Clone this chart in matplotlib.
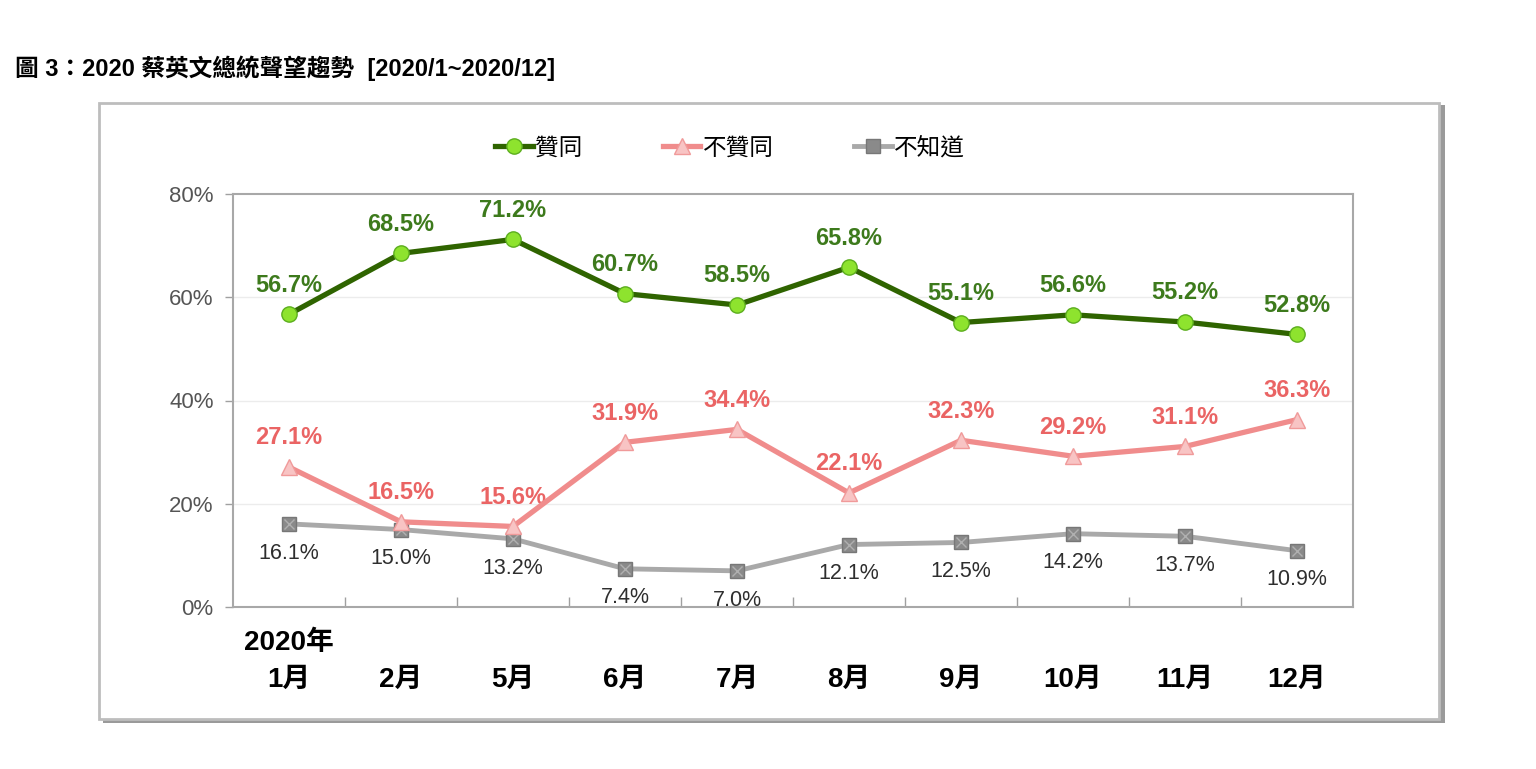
import matplotlib.pyplot as plt
from matplotlib.patches import Rectangle

plt.rcParams['font.family'] = ['Liberation Sans', 'Noto Sans CJK TC', 'DejaVu Sans']

# data
months = ['1月', '2月', '5月', '6月', '7月', '8月', '9月', '10月', '11月', '12月']
year_label = '2020年'
approve = [56.7, 68.5, 71.2, 60.7, 58.5, 65.8, 55.1, 56.6, 55.2, 52.8]
disapprove = [27.1, 16.5, 15.6, 31.9, 34.4, 22.1, 32.3, 29.2, 31.1, 36.3]
unknown = [16.1, 15.0, 13.2, 7.4, 7.0, 12.1, 12.5, 14.2, 13.7, 10.9]
y_ticks = [0, 20, 40, 60, 80]

title = '圖 3：2020 蔡英文總統聲望趨勢  [2020/1~2020/12]'

fig = plt.figure(figsize=(15.36, 7.69), dpi=100)

# outer frame with shadow (figure pixel coords -> fractions)
W, H = 1536, 769
shadow = Rectangle((103 / W, 1 - 723 / H), 1342 / W, 618 / H,
                   transform=fig.transFigure, facecolor='#9a9a9a',
                   edgecolor='none', zorder=0)
frame = Rectangle((99 / W, 1 - 719 / H), 1340 / W, 616 / H,
                  transform=fig.transFigure, facecolor='white',
                  edgecolor='#bdbdbd', linewidth=2, zorder=1)
fig.patches.extend([shadow, frame])

fig.text(15 / W, 1 - 68 / H, title, fontsize=17, fontweight='bold',
         va='center', ha='left')

ax = fig.add_axes([233 / W, 1 - 607 / H, 1120 / W, 413 / H])
ax.set_zorder(2)
x = list(range(len(months)))

ax.plot(x, unknown, color='#a9a9a9', linewidth=3.5, marker='s',
        markersize=10, markerfacecolor='#8a8a8a', markeredgecolor='#777777',
        label='不知道', zorder=3)
ax.plot(x, unknown, linestyle='none', marker='x', markersize=7,
        markeredgecolor='#b0b0b0', markeredgewidth=1, zorder=4)
ax.plot(x, disapprove, color='#f08c8c', linewidth=3.8, marker='^',
        markersize=12, markerfacecolor='#f8c4c4', markeredgecolor='#f09a9a',
        label='不贊同', zorder=5)
ax.plot(x, approve, color='#2f6400', linewidth=3.8, marker='o',
        markersize=11, markerfacecolor='#8ee32e', markeredgecolor='#5cae1e',
        label='贊同', zorder=6)

for xi, v in zip(x, approve):
    ax.annotate(f'{v:.1f}%', (xi, v), xytext=(0, 21), textcoords='offset points',
                ha='center', va='center', fontsize=17, fontweight='bold',
                color='#3d7a1c')
for xi, v in zip(x, disapprove):
    ax.annotate(f'{v:.1f}%', (xi, v), xytext=(0, 21), textcoords='offset points',
                ha='center', va='center', fontsize=17, fontweight='bold',
                color='#ea6464')
for xi, v in zip(x, unknown):
    ax.annotate(f'{v:.1f}%', (xi, v), xytext=(0, -21), textcoords='offset points',
                ha='center', va='center', fontsize=15.5, color='#2e2e2e')

ax.set_xlim(-0.5, len(months) - 0.5)
ax.set_ylim(0, 80)
ax.set_yticks(y_ticks)
ax.set_yticklabels([f'{t}%' for t in y_ticks], fontsize=16, color='#555555')
ax.tick_params(axis='y', length=6, width=1, color='#a0a0a0', pad=8)
ax.set_xticks([])
ax.set_xticks([i + 0.5 for i in x[:-1]], minor=True)
ax.tick_params(axis='x', which='minor', direction='in', length=7, width=1,
               color='#a0a0a0')
for t in y_ticks[1:-1]:
    ax.axhline(t, color='#ececec', linewidth=1, zorder=1)
for s in ax.spines.values():
    s.set_color('#a8a8a8')
    s.set_linewidth(1.5)

for xi, m in zip(x, months):
    ax.text(xi, -0.177, m, transform=ax.get_xaxis_transform(), ha='center',
            va='center', fontsize=20, fontweight='bold')
ax.text(x[0], -0.087, year_label, transform=ax.get_xaxis_transform(),
        ha='center', va='center', fontsize=20, fontweight='bold')

handles, labels = ax.get_legend_handles_labels()
order = [2, 1, 0]
fig.legend([handles[i] for i in order], [labels[i] for i in order],
           loc='center', bbox_to_anchor=(730 / W, 1 - 148 / H), ncol=3,
           frameon=False, fontsize=17, handlelength=1.6, columnspacing=3.4,
           handletextpad=0.1)

fig.savefig('out.png', dpi=100)
